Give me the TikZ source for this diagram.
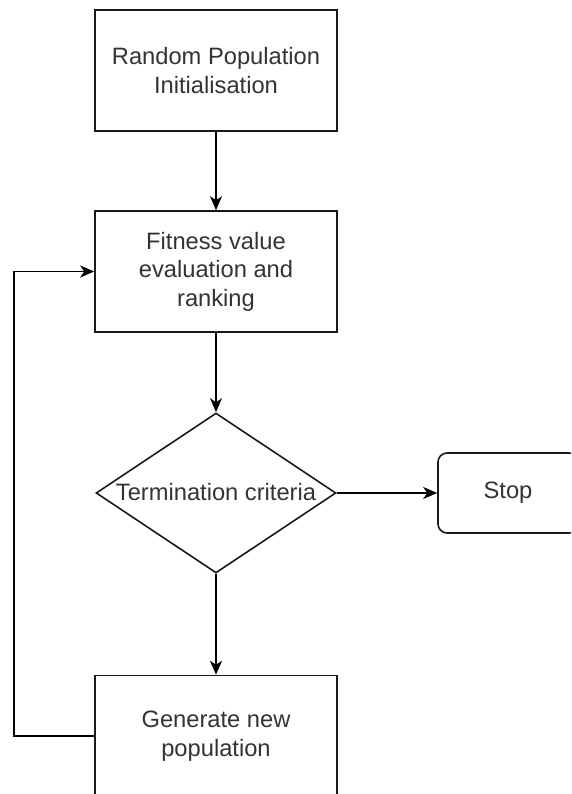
\documentclass[tikz,border=0pt]{standalone}
\usepackage{fontspec}
\setmainfont{Liberation Sans}
\usetikzlibrary{shapes.geometric,arrows.meta}
\tikzset{
  boxnode/.style={draw=black!90, line width=1.6pt, minimum width=242pt, minimum height=121pt, inner sep=0pt, align=center, text=black!80, font=\fontsize{23.7}{28.5}\selectfont},
  stopnode/.style={boxnode, rounded corners=9pt, minimum width=140pt, minimum height=80pt},
  decnode/.style={draw=black!90, line width=1.6pt, diamond, aspect=1.5, minimum width=240pt, minimum height=160pt, inner sep=0pt},
  lbl/.style={text=black!80, font=\fontsize{23.7}{28.5}\selectfont},
  arr/.style={draw=black, line width=1.6pt, -{Stealth[length=14pt,width=12pt,inset=4pt]}}
}
\begin{document}
\begin{tikzpicture}[x=1pt,y=-1pt]
\useasboundingbox (0,0) rectangle (571,794);
\fill[white] (0,0) rectangle (571,794);
\clip (0,0) rectangle (571,794);
\node[boxnode] (init) at (216,70.5) {Random Population\\Initialisation};
\node[boxnode] (fit) at (216,271.5) {Fitness value\\evaluation and\\ranking};
\node[decnode] (dec) at (216,493) {};
\node[lbl] (declbl) at (216,492) {Termination criteria};
\node[stopnode] (stop) at (508,493) {Stop};
\node[boxnode] (gen) at (216,736) {Generate new\\population};
\draw[arr] (init.south) -- (fit.north);
\draw[arr] (fit.south) -- (dec.north);
\draw[arr] (dec.east) -- (stop.west);
\draw[arr] (dec.south) -- (gen.north);
\coordinate (lb) at (14,736);
\draw[arr] (gen.west) -- (lb) |- (fit.west);
\end{tikzpicture}
\end{document}
